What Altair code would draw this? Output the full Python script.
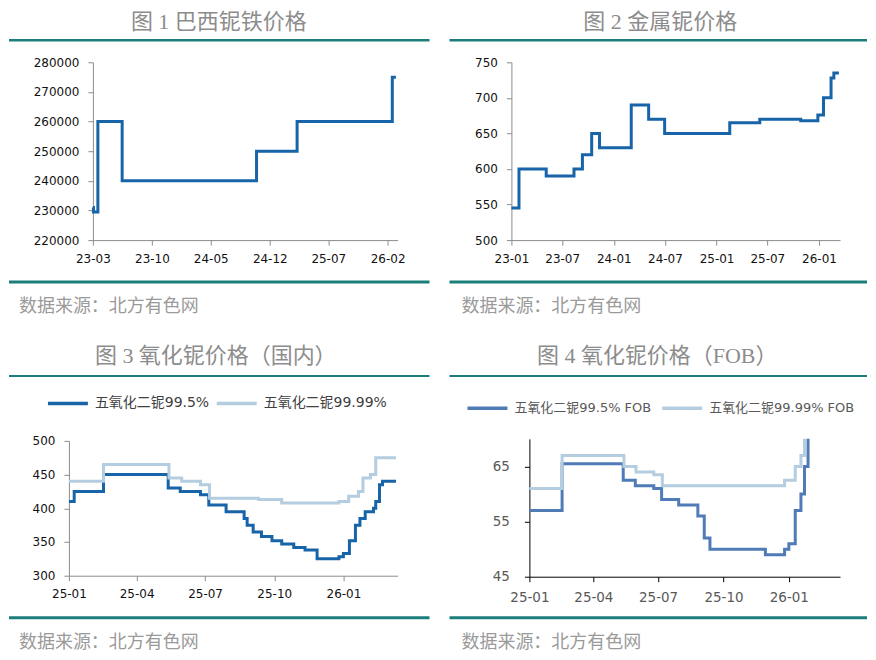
import altair as alt
import pandas as pd

# ---------------- data ----------------
# 图1 巴西铌铁价格
nbfe_dates = ["2023-03-01", "2023-03-03", "2023-03-19", "2023-06-15", "2024-10-14",
              "2025-03-10", "2026-02-18", "2026-03-03"]
nbfe_values = [231000, 229500, 260000, 240000, 250000, 260000, 275000, 275000]

# 图2 金属铌价格
nb_dates = ["2023-01-01", "2023-01-28", "2023-05-05", "2023-08-12", "2023-09-11",
            "2023-10-14", "2023-11-11", "2024-03-03", "2024-05-04", "2024-06-30",
            "2025-02-17", "2025-06-04", "2025-10-28", "2025-12-28", "2026-01-17",
            "2026-02-13", "2026-02-23", "2026-03-13"]
nb_values = [545, 600, 590, 600, 620, 650, 630, 690, 670, 650,
             665, 670, 668, 676, 700, 728, 735, 735]

# 图3 氧化铌价格（国内）
ox_series = ["五氧化二铌99.5%", "五氧化二铌99.99%"]
ox995_dates = ["2025-01-01", "2025-01-08", "2025-02-16", "2025-05-13", "2025-05-29",
               "2025-06-25", "2025-07-06", "2025-07-29", "2025-08-22", "2025-08-26",
               "2025-09-03", "2025-09-14", "2025-09-28", "2025-10-11", "2025-10-27",
               "2025-11-11", "2025-11-27", "2025-12-26", "2026-01-01", "2026-01-09",
               "2026-01-17", "2026-01-23", "2026-01-30", "2026-02-10", "2026-02-13",
               "2026-02-18", "2026-02-22", "2026-03-12"]
ox995_values = [410, 425, 450, 430, 425, 420, 405, 395, 385, 375,
                365, 358, 352, 347, 342, 338, 325, 328, 333, 352,
                375, 385, 395, 400, 410, 435, 440, 440]
ox9999_dates = ["2025-01-01", "2025-02-16", "2025-05-14", "2025-05-31", "2025-06-25",
                "2025-07-07", "2025-09-10", "2025-10-11", "2025-12-26", "2026-01-08",
                "2026-01-21", "2026-01-27", "2026-02-06", "2026-02-13", "2026-03-12"]
ox9999_values = [440, 465, 445, 440, 435, 415, 413, 408, 410, 418,
                 425, 445, 450, 475, 475]

# 图4 氧化铌价格（FOB）
fob_series = ["五氧化二铌99.5% FOB", "五氧化二铌99.99% FOB"]
fob995_dates = ["2025-01-01", "2025-02-16", "2025-05-13", "2025-05-30", "2025-06-25",
                "2025-07-06", "2025-07-30", "2025-08-26", "2025-09-04", "2025-09-12",
                "2025-11-29", "2025-12-26", "2026-01-01", "2026-01-10", "2026-01-18",
                "2026-01-23", "2026-01-28", "2026-01-31"]
fob995_values = [57, 65.5, 62.5, 61.5, 61, 59, 58, 56, 52, 50,
                 49, 50, 51, 57, 60, 65, 73, 73]
fob9999_dates = ["2025-01-01", "2025-02-16", "2025-05-14", "2025-05-31", "2025-06-25",
                 "2025-07-07", "2025-12-26", "2026-01-10", "2026-01-18", "2026-01-23",
                 "2026-01-31"]
fob9999_values = [61, 67, 65, 64, 63.5, 61.5, 62.5, 65, 67, 73, 73]

titles = ["图 1 巴西铌铁价格", "图 2 金属铌价格", "图 3 氧化铌价格（国内）", "图 4 氧化铌价格（FOB）"]
source_text = "数据来源：北方有色网"

p1_xticks = ["2023-03-01", "2023-10-01", "2024-05-01", "2024-12-01", "2025-07-01", "2026-02-01"]
p2_xticks = ["2023-01-01", "2023-07-01", "2024-01-01", "2024-07-01", "2025-01-01", "2025-07-01", "2026-01-01"]
p34_xticks = ["2025-01-01", "2025-04-01", "2025-07-01", "2025-10-01", "2026-01-01"]
p1_yticks = [220000, 230000, 240000, 250000, 260000, 270000, 280000]
p2_yticks = [500, 550, 600, 650, 700, 750]
p3_yticks = [300, 350, 400, 450, 500]
p4_yticks = [45, 55, 65]

# ---------------- styles ----------------
CJK = "Noto Sans CJK SC"
TITLE_FONT = "Liberation Serif, Noto Sans CJK SC"
LAT = "DejaVu Sans, Noto Sans CJK SC"
TEAL = "#1b7e7b"
DARK = "#1764a8"
DARK4 = "#4f7bb6"
LIGHT = "#b4cde0"
AXIS_GRAY = "#8c8c8c"


def ms(d):
    return int(pd.Timestamp(d, tz="UTC").value // 10**6)


def xaxis(ticks, color, label_color, size, pad):
    return alt.Axis(values=[ms(d) for d in ticks], labelExpr="utcFormat(datum.value, '%y-%m')",
                    title=None, grid=False, labelFlush=False, labelOverlap=False,
                    domainColor=color, tickColor=color, tickSize=5,
                    labelColor=label_color, labelFont=LAT, labelFontSize=size,
                    labelPadding=pad)


def yaxis(ticks, color, label_color, size, pad, offset=0):
    return alt.Axis(values=ticks, format="d", title=None, grid=False, labelFlush=False,
                    labelOverlap=False, domainColor=color, tickColor=color, tickSize=5,
                    labelColor=label_color, labelFont=LAT, labelFontSize=size,
                    labelPadding=pad, offset=offset)


def frame(origin, title, title_xy, rule_x, top_y, top_w, bot_y, src_xy, anchor=False):
    ox, oy = origin
    base = alt.Chart(alt.Data(values=[{"k": 0}]))
    layers = [
        base.mark_text(font=TITLE_FONT, fontSize=22, color="#8c8c8c", align="center",
                       baseline="alphabetic").encode(
            x=alt.value(title_xy[0] - ox), y=alt.value(title_xy[1] - oy), text=alt.value(title)),
        base.mark_rect(color=TEAL).encode(
            x=alt.value(rule_x[0] - ox), x2=alt.value(rule_x[1] - ox),
            y=alt.value(top_y - top_w / 2 - oy), y2=alt.value(top_y + top_w / 2 - oy)),
        base.mark_rect(color=TEAL).encode(
            x=alt.value(rule_x[0] - ox), x2=alt.value(rule_x[1] - ox),
            y=alt.value(bot_y - 1.5 - oy), y2=alt.value(bot_y + 1.5 - oy)),
        base.mark_text(font=CJK, fontSize=18, color="#9a9a9a", align="left",
                       baseline="middle").encode(
            x=alt.value(src_xy[0] - ox), y=alt.value(src_xy[1] - oy), text=alt.value(source_text)),
    ]
    if anchor:
        layers.append(base.mark_rule(opacity=0).encode(
            x=alt.value(8 - ox), x2=alt.value(9 - ox), y=alt.value(8 - oy)))
    return layers


def legend(lx, ly, color, pad, size):
    return alt.Legend(orient="none", legendX=lx, legendY=ly, direction="horizontal", title=None,
                      symbolType="stroke", symbolSize=1600, symbolStrokeWidth=3.5,
                      labelFont=LAT, labelFontSize=size, labelColor=color, labelOffset=5,
                      columnPadding=pad, padding=0, labelLimit=300)


# ---------------- panel 1 ----------------
O1 = (68, 61)
df1 = pd.DataFrame({"date": nbfe_dates, "value": nbfe_values})
line1 = alt.Chart(df1).mark_line(color=DARK, strokeWidth=3, interpolate="step-after").encode(
    x=alt.X("date:T", scale=alt.Scale(type="utc", domain=[ms("2023-03-01"), ms("2026-03-09")],
                                      range=[24, 329]),
            axis=xaxis(p1_xticks, AXIS_GRAY, "#111111", 12, 8)),
    y=alt.Y("value:Q", scale=alt.Scale(domain=[220000, 280000]),
            axis=yaxis(p1_yticks, AXIS_GRAY, "#111111", 12, 9, offset=-24)),
)
p1 = alt.layer(line1, *frame(O1, titles[0], (218, 28), (8, 429), 39, 2.5, 281, (18, 306),
                             anchor=True)).properties(width=329, height=178)

# ---------------- panel 2 ----------------
O2 = (511, 61)
df2 = pd.DataFrame({"date": nb_dates, "value": nb_values})
line2 = alt.Chart(df2).mark_line(color=DARK, strokeWidth=3, interpolate="step-after").encode(
    x=alt.X("date:T", scale=alt.Scale(type="utc", domain=[ms("2023-01-01"), ms("2026-03-17")]),
            axis=xaxis(p2_xticks, AXIS_GRAY, "#111111", 12, 8)),
    y=alt.Y("value:Q", scale=alt.Scale(domain=[500, 750]),
            axis=yaxis(p2_yticks, AXIS_GRAY, "#111111", 12, 9)),
)
p2 = alt.layer(line2, *frame(O2, titles[1], (660, 28), (449, 867), 39, 2.5, 281, (461, 306))
               ).properties(width=329, height=178)

# ---------------- panel 3 ----------------
O3 = (68, 438)
df3 = pd.concat([
    pd.DataFrame({"date": ox995_dates, "value": ox995_values, "series": ox_series[0]}),
    pd.DataFrame({"date": ox9999_dates, "value": ox9999_values, "series": ox_series[1]}),
])
line3 = alt.Chart(df3).mark_line(strokeWidth=3, interpolate="step-after").encode(
    x=alt.X("date:T", scale=alt.Scale(type="utc", domain=[ms("2025-01-01"), ms("2026-03-14")]),
            axis=xaxis(p34_xticks, AXIS_GRAY, "#111111", 12, 8)),
    y=alt.Y("value:Q", scale=alt.Scale(domain=[300, 500], range=[137, 2]),
            axis=yaxis(p3_yticks, AXIS_GRAY, "#111111", 12, 9)),
    color=alt.Color("series:N", scale=alt.Scale(domain=ox_series, range=[DARK, LIGHT]),
                    legend=legend(-23, -57.5, "#404040", 0, 14)),
)
p3 = alt.layer(line3, *frame(O3, titles[2], (215, 362), (8, 429), 375, 2, 617, (18, 642))
               ).properties(width=329, height=137)

# ---------------- panel 4 ----------------
O4 = (511, 438)
df4 = pd.concat([
    pd.DataFrame({"date": fob995_dates, "value": fob995_values, "series": fob_series[0]}),
    pd.DataFrame({"date": fob9999_dates, "value": fob9999_values, "series": fob_series[1]}),
])
line4 = alt.Chart(df4).mark_line(strokeWidth=3, interpolate="step-after", clip=True).encode(
    x=alt.X("date:T", scale=alt.Scale(type="utc", domain=[ms("2025-01-01"), ms("2026-03-14")],
                                      range=[18, 329]),
            axis=xaxis(p34_xticks, "#000000", "#595959", 13.5, 9)),
    y=alt.Y("value:Q", scale=alt.Scale(domain=[45, 70]),
            axis=yaxis(p4_yticks, "#000000", "#595959", 13.5, 15, offset=-18)),
    color=alt.Color("series:N", scale=alt.Scale(domain=fob_series, range=[DARK4, LIGHT]),
                    legend=legend(-46, -52.6, "#595959", 3, 13)),
)
p4 = alt.layer(line4, *frame(O4, titles[3], (657, 362), (449, 867), 375, 2, 617, (461, 642))
               ).properties(width=329, height=138)

chart = alt.concat(
    p1, p2, p3, p4, columns=2, spacing={"row": 199, "column": 114},
    bounds="flush", align="each",
).resolve_scale(
    color="independent", x="independent", y="independent"
).configure_view(
    stroke="transparent"
).properties(padding=0, background="white")

chart.save("out.html", embed_options={"renderer": "svg", "actions": False})
